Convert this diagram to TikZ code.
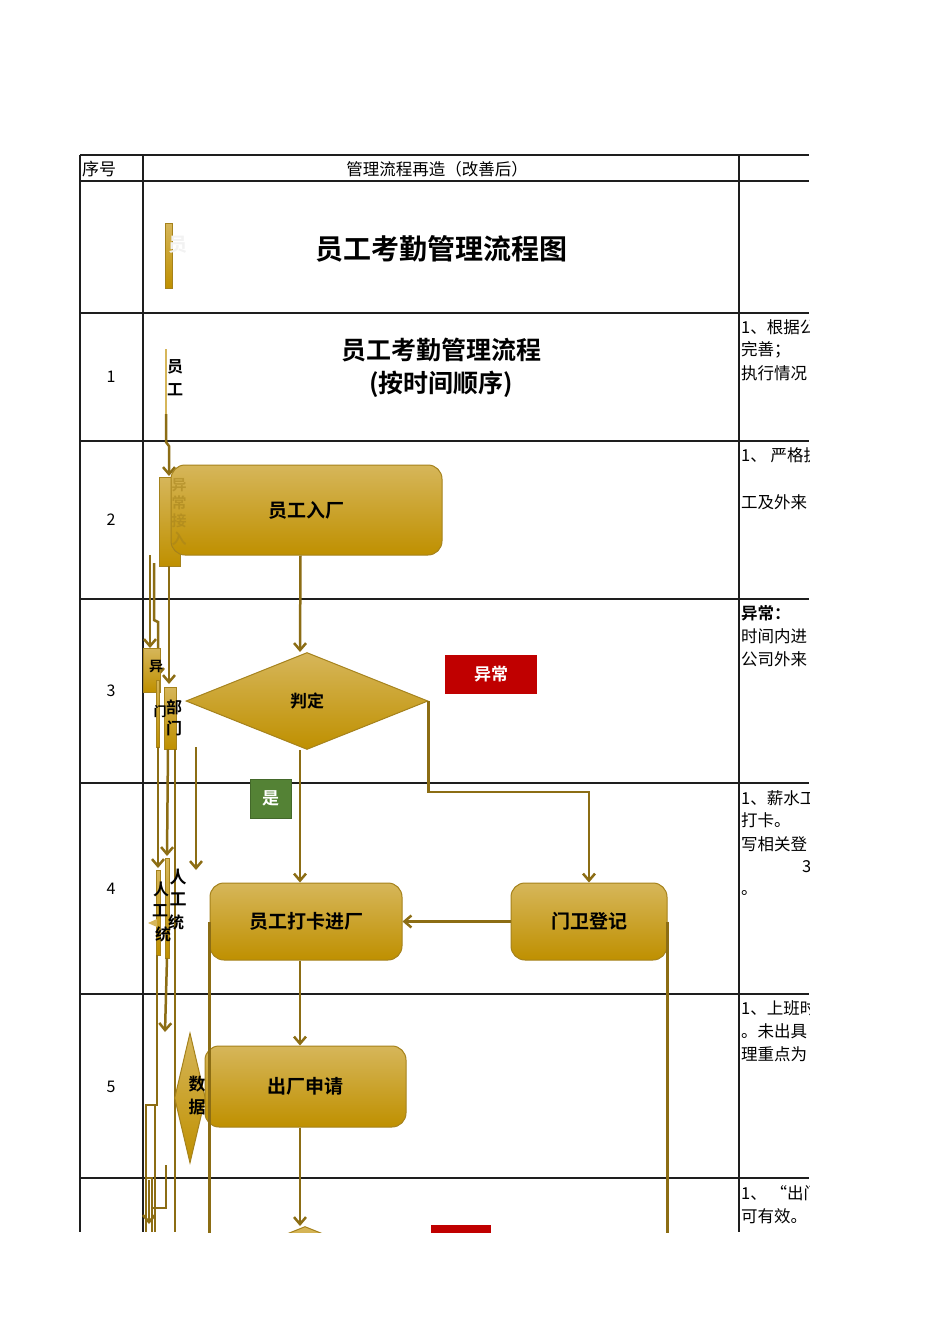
\documentclass[tikz,border=0pt]{standalone}
\usepackage{fontspec}
\setmainfont{Noto Sans CJK SC}[BoldFont={Noto Sans CJK SC Bold}]
\usetikzlibrary{shapes.geometric,arrows.meta,calc}
\definecolor{goldT}{HTML}{D6B65A}
\definecolor{goldB}{HTML}{BF9000}
\definecolor{goldE}{HTML}{A5821C}
\definecolor{flow}{HTML}{8C6D14}
\definecolor{gridc}{HTML}{1E1E1E}
\definecolor{redbox}{HTML}{C00000}
\definecolor{greenbox}{HTML}{548235}
\tikzset{
  gridline/.style={draw=gridc,line width=1.4pt},
  procbox/.style={rectangle,rounded corners=14pt,draw=goldE,line width=1pt,top color=goldT,bottom color=goldB,inner sep=0pt,font=\fontsize{19}{22}\selectfont\bfseries,text=black},
  decide/.style={diamond,draw=goldE,line width=1pt,top color=goldT,bottom color=goldB,inner sep=0pt,font=\fontsize{17}{20}\selectfont\bfseries,text=black},
  arr/.style={draw=flow,line width=2.5pt,-{Straight Barb[length=7pt,width=12pt]}},
  flowline/.style={draw=flow,line width=2.5pt},
  tagbox/.style={inner sep=0pt,font=\fontsize{17}{20}\selectfont\bfseries,text=white},
  celltext/.style={anchor=west,inner sep=0pt,font=\fontsize{16.5}{19}\selectfont},
  bar/.style={draw=goldE,line width=1pt,top color=goldT,bottom color=goldB},
  sidechar/.style={inner sep=0pt,font=\fontsize{16}{18}\selectfont\bfseries},
}
\begin{document}
\begin{tikzpicture}[x=1pt,y=-1pt]
\useasboundingbox[fill=white] (0,0) rectangle (950,1344);
\begin{scope}
\clip (0,0) rectangle (809,1232);
% grid
\foreach \yy in {155,181,313,441,599,783,994,1178}{\draw[gridline] (80,\yy) -- (809,\yy);}
\foreach \xx in {80,143,739}{\draw[gridline] (\xx,155) -- (\xx,1232);}
% header texts
\node[anchor=west,inner sep=0pt,font=\fontsize{17}{20}\selectfont] (hA) at (82,169) {序号};
\node[inner sep=0pt,font=\fontsize{16.5}{20}\selectfont] (hB) at (437,169) {管理流程再造（改善后）};
\node[inner sep=0pt,font=\fontsize{16}{18}\selectfont] (n1) at (111,377) {1};
\node[inner sep=0pt,font=\fontsize{16}{18}\selectfont] (n2) at (111,520) {2};
\node[inner sep=0pt,font=\fontsize{16}{18}\selectfont] (n3) at (111,691) {3};
\node[inner sep=0pt,font=\fontsize{16}{18}\selectfont] (n4) at (111,889) {4};
\node[inner sep=0pt,font=\fontsize{16}{18}\selectfont] (n5) at (111,1087) {5};
\node[inner sep=0pt,font=\fontsize{28}{32}\selectfont\bfseries] (title) at (441,249) {员工考勤管理流程图};
\node[inner sep=0pt,font=\fontsize{25}{28}\selectfont\bfseries] (sub1) at (441,350) {员工考勤管理流程};
\node[inner sep=0pt,font=\fontsize{25}{28}\selectfont\bfseries] (sub2) at (441,384) {(按时间顺序)};
% right column
\node[celltext] (r1a) at (741,327) {1、根据公司};
\node[celltext] (r1b) at (741,350) {完善；};
\node[celltext] (r1c) at (741,373) {执行情况};
\node[celltext] (r2a) at (741,455) {1、 严格执行};
\node[celltext] (r2b) at (741,502) {工及外来};
\node[celltext,font=\fontsize{16.5}{19}\selectfont\bfseries] (r3a) at (741,613) {异常：};
\node[celltext] (r3b) at (741,636) {时间内进};
\node[celltext] (r3c) at (741,659) {公司外来};
\node[celltext] (r4a) at (741,798) {1、薪水工};
\node[celltext] (r4b) at (741,820) {打卡。};
\node[celltext] (r4c) at (741,844) {写相关登};
\node[celltext] (r4d) at (802,867) {3、};
\node[celltext] (r4e) at (741,893) {。};
\node[celltext] (r5a) at (741,1008) {1、上班时};
\node[celltext] (r5b) at (741,1031) {。未出具};
\node[celltext] (r5c) at (741,1054) {理重点为};
\node[celltext] (r6a) at (741,1193) {1、 “出门证};
\node[celltext] (r6b) at (741,1216) {可有效。};
% top gold bar
\draw[bar] (165,223) rectangle (172,288);
\node[inner sep=0pt,font=\fontsize{19}{20}\selectfont\bfseries,text=white!90!gray] (yuan0) at (178,245) {员};
% row 1 side text & line
\draw[draw=goldT,line width=1.2pt] (166,349) -- (166,414);
\draw[arr] (166,414) -- (166,442) -- (169,446) -- (169,476);
\node[sidechar] (s1) at (175,367) {员};
\node[sidechar] (s2) at (175,390) {工};
% row 2 side rect
\draw[bar] (159,477) rectangle (180,566);
% side lines rows 2-3
\draw[arr] (150,555) -- (150,648);
\draw[arr] (154,563) -- (154,620) -- (158,622) -- (158,677);
\draw[arr] (169,566) -- (169,684);
\draw[bar] (143,648) rectangle (160,692);
\node[sidechar,font=\fontsize{14}{16}\selectfont\bfseries] (s3) at (156,667) {异};
\draw[bar] (156,680) rectangle (159,747);
\draw[bar] (164,687) rectangle (176,749);
\node[sidechar] (s4) at (174,707) {部};
\node[sidechar] (s5) at (174,728) {门};
\node[sidechar,font=\fontsize{13}{15}\selectfont\bfseries] (s6) at (160,712) {门};
% side lines rows 3-4
\draw[arr] (158,747) -- (158,868);
\draw[arr] (168,749) -- (167,856);
\draw[arr] (196,747) -- (196,870);
\draw[flowline] (175,749) -- (175,1232);
\draw[bar] (156,870) rectangle (160,955);
\draw[bar] (165,858) rectangle (169,958);
\node[sidechar,font=\fontsize{17}{19}\selectfont\bfseries] (s7) at (178,877) {人};
\node[sidechar,font=\fontsize{17}{19}\selectfont\bfseries] (s8) at (178,899) {工};
\node[sidechar,font=\fontsize{16}{18}\selectfont\bfseries] (s9) at (176,922) {统};
\node[sidechar] (s10) at (161,889) {人};
\node[sidechar] (s11) at (160,911) {工};
\node[sidechar] (s12) at (163,934) {统};
\fill[goldT] (148,923) -- (157,919) -- (157,927) -- cycle;
% side lines rows 4-6
\draw[arr] (167,958) -- (165,1032);
\draw[flowline] (157,955) -- (157,1105) -- (146,1105) -- (146,1232);
\draw[flowline] (155,1105) -- (155,1232);
\draw[flowline] (146,1178) -- (152,1178) -- (152,1232);
\draw[arr] (149,1180) -- (149,1224);
\draw[flowline] (166,1165) -- (166,1208) -- (153,1208);
% main flow
\node[procbox,minimum width=271,minimum height=90] (enter) at (306.5,510) {员工入厂};
\node[inner sep=0pt,font=\fontsize{15}{18}\selectfont\bfseries,text=goldE,opacity=0.55,align=center] (faint) at (179,512) {异\\常\\接\\入};
\node[decide,minimum width=242,minimum height=97] (judge) at (307,701) {判定};
\node[tagbox,fill=redbox,minimum width=92,minimum height=39] (abn) at (491,674.5) {异常};
\node[tagbox,fill=greenbox,minimum width=41,minimum height=39,draw=greenbox!80!black,line width=0.6pt] (yes) at (270.5,798.5) {是};
\node[procbox,minimum width=192,minimum height=77] (punch) at (306,921.5) {员工打卡进厂};
\node[procbox,minimum width=156,minimum height=77] (guard) at (589,921.5) {门卫登记};
\node[decide,minimum width=31,minimum height=130] (data) at (190,1098) {};
\node[sidechar,font=\fontsize{17}{19}\selectfont\bfseries] (d1) at (197,1084) {数};
\node[sidechar,font=\fontsize{17}{19}\selectfont\bfseries] (d2) at (197,1107) {据};
\node[procbox,minimum width=201,minimum height=81] (exitreq) at (305.5,1086.5) {出厂申请};
\node[decide,minimum width=242,minimum height=97] (judge2) at (305,1275) {};
\node[tagbox,fill=redbox,minimum width=60,minimum height=39] (abn2) at (461,1244.5) {};
% connectors
\draw[arr] ([xshift=-6]enter.south) -- ([xshift=-7]judge.south |- judge.north);
\draw[arr] ([xshift=-7]judge.south) -- ([xshift=-6]punch.north);
\draw[arr] (judge.east) -- (judge.east |- 0,792) -| (guard.north);
\draw[arr] (guard.west) -- (punch.east);
\draw[flowline] (guard.east) -- ++(0,320);
\draw[flowline] (punch.west) -- ++(0,320);
\draw[arr] ([xshift=-6]punch.south) -- ([xshift=-5.5]exitreq.north);
\draw[arr] ([xshift=-5.5]exitreq.south) -- ([xshift=-5]judge2.north);
\end{scope}
\end{tikzpicture}
\end{document}
